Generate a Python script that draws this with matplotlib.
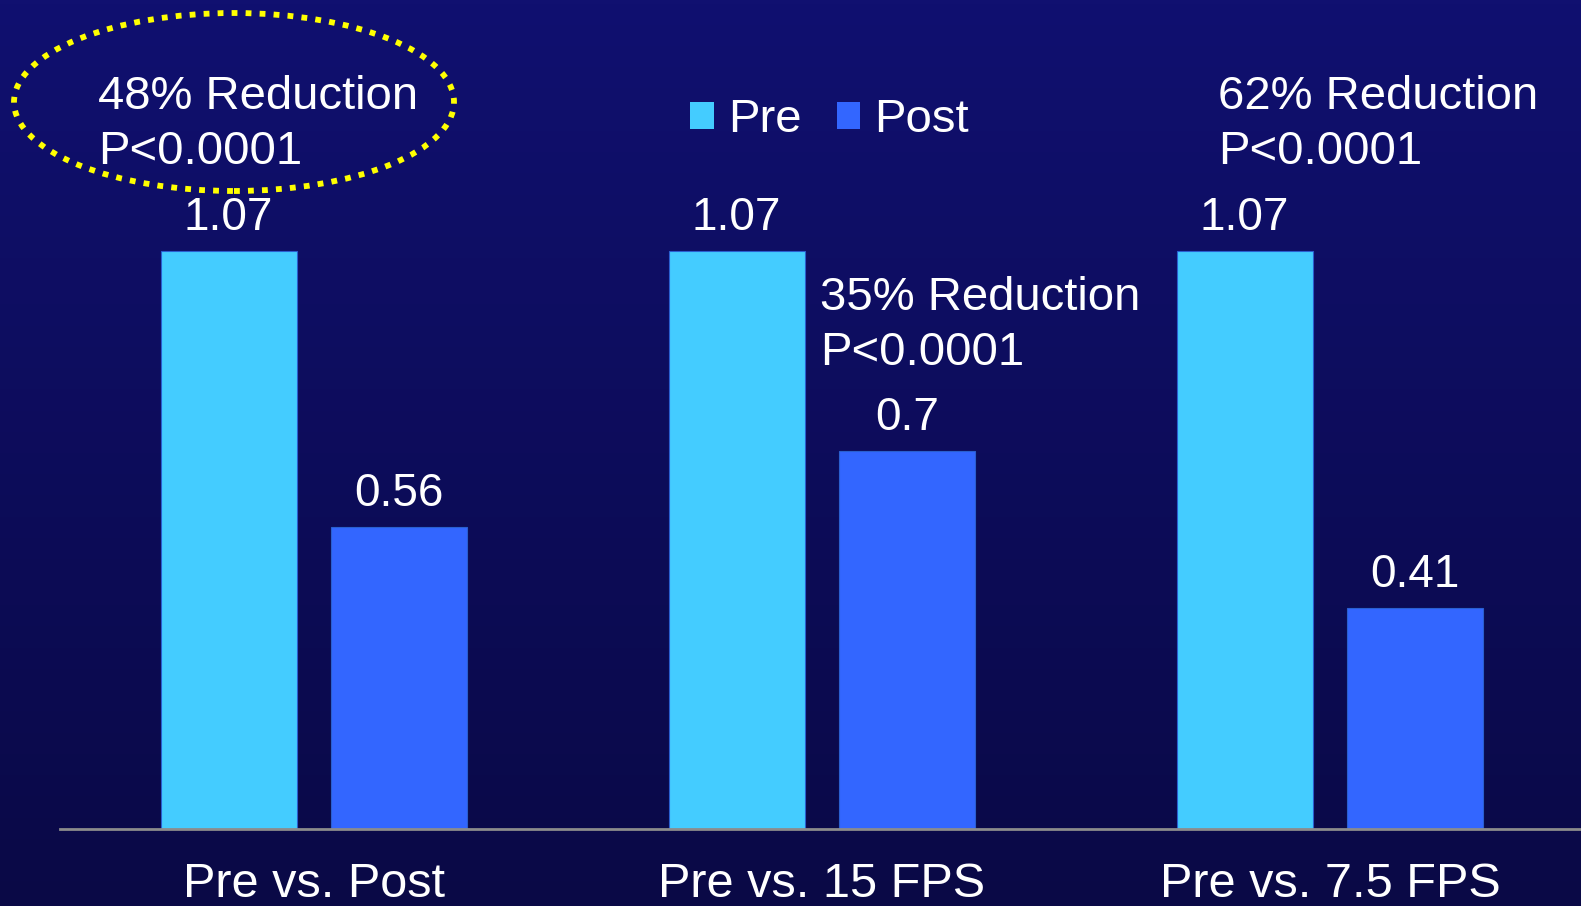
import numpy as np
import matplotlib
matplotlib.use('Agg')
import matplotlib.pyplot as plt
from matplotlib.patches import Ellipse, Patch

plt.rcParams['font.family'] = ['Liberation Sans', 'DejaVu Sans']

categories = ['Pre vs. Post', 'Pre vs. 15 FPS', 'Pre vs. 7.5 FPS']
pre_values = [1.07, 1.07, 1.07]
post_values = [0.56, 0.7, 0.41]
reductions = ['48% Reduction\nP<0.0001', '35% Reduction\nP<0.0001', '62% Reduction\nP<0.0001']

W, H = 1581, 906
fig = plt.figure(figsize=(W / 100, H / 100), dpi=100)

# dark blue vertical gradient behind everything
bg = fig.add_axes([0, 0, 1, 1], zorder=0)
grad = np.linspace(0, 1, 256).reshape(-1, 1)
top = np.array([16, 16, 112]) / 255
bottom = np.array([10, 9, 70]) / 255
img = top + (bottom - top) * grad[..., None]
bg.imshow(img, aspect='auto', extent=[0, 1, 0, 1])
bg.axis('off')

# plot area in pixels: baseline at y=829, 540 px per unit
ax = fig.add_axes([60 / W, 77 / H, 1524 / W, 756 / H], zorder=1)
ax.set_facecolor('none')
x = np.arange(len(categories))
w = 0.268
off = 0.168
b1 = ax.bar(x - off, pre_values, w, color='#44ccff', edgecolor='#2a5fcf', linewidth=0.8, label='Pre')
b2 = ax.bar(x + off, post_values, w, color='#3366ff', edgecolor='#2a5fcf', linewidth=0.8, label='Post')
ax.set_xlim(-0.5, 2.5)
ax.set_ylim(0, 1.4)

for bars, vals in ((b1, pre_values), (b2, post_values)):
    for r, v in zip(bars, vals):
        ax.annotate(f'{v:g}', (r.get_x() + r.get_width() / 2, v), xytext=(0, 15),
                    textcoords='offset points', ha='center', va='baseline',
                    color='white', fontsize=33)

for s in ['top', 'right', 'left']:
    ax.spines[s].set_visible(False)
ax.spines['bottom'].set_color('#8c8c8c')
ax.spines['bottom'].set_linewidth(2)
ax.set_yticks([])
ax.set_xticks(x)
ax.set_xticklabels(categories, fontsize=35, color='white')
ax.tick_params(axis='x', length=0, pad=49)
plt.setp(ax.get_xticklabels(), va='baseline')

# reduction notes (baseline given for the second line)
fig.text(98 / W, 1 - 164 / H, reductions[0], color='white', fontsize=34, va='baseline', linespacing=1.32)
fig.text(820 / W, 1 - 365 / H, reductions[1], color='white', fontsize=34, va='baseline', linespacing=1.32)
fig.text(1218 / W, 1 - 164 / H, reductions[2], color='white', fontsize=34, va='baseline', linespacing=1.32)

# dotted yellow ring around the first note
ring = Ellipse((234 / W, 1 - 102 / H), 440 / W, 178 / H, transform=fig.transFigure,
               fill=False, edgecolor='#ffff00', linewidth=4.2, linestyle=(0, (1, 1.4)), zorder=5)
fig.add_artist(ring)

handles = [Patch(facecolor='#44ccff', label='Pre'), Patch(facecolor='#3366ff', label='Post')]
fig.legend(handles=handles, loc='upper left', bbox_to_anchor=(690 / W, 1 - 98 / H), ncol=2,
           frameon=False, fontsize=34, labelcolor='white', handlelength=0.5, handleheight=0.5,
           handletextpad=0.3, columnspacing=0.75, borderpad=0, borderaxespad=0)

fig.savefig('out.png', dpi=100)
